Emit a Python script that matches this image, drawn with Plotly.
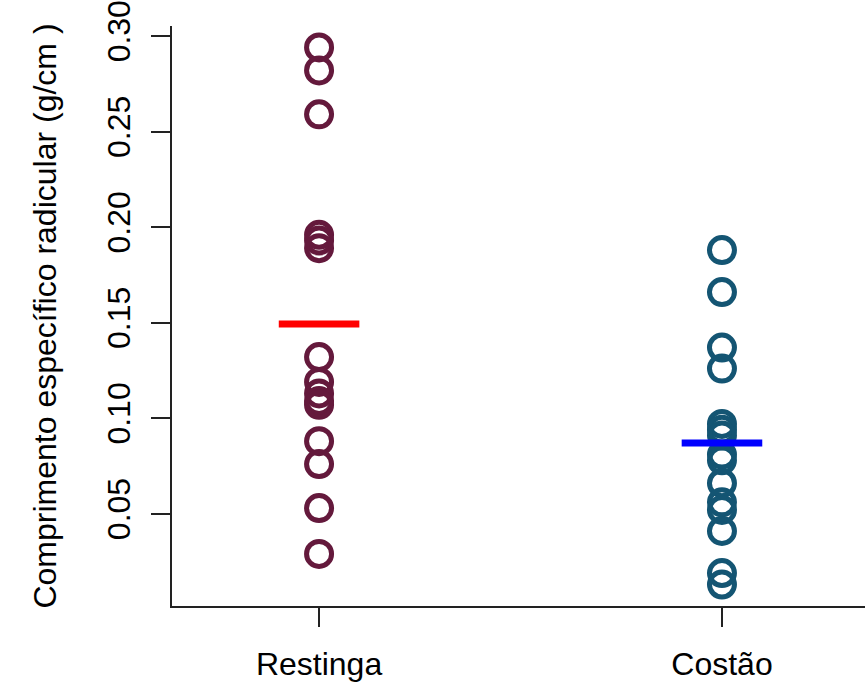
import plotly.graph_objects as go

categories = ["Restinga", "Costão"]
restinga = [0.294, 0.282, 0.259, 0.196, 0.193, 0.189, 0.132, 0.119, 0.113,
            0.109, 0.107, 0.088, 0.076, 0.053, 0.029]
costao = [0.188, 0.166, 0.137, 0.126, 0.097, 0.094, 0.091, 0.081, 0.078,
          0.066, 0.056, 0.052, 0.041, 0.019, 0.013]
y_ticks = [0.05, 0.10, 0.15, 0.20, 0.25, 0.30]
y_ticktext = ["0.05", "0.10", "0.15", "0.20", "0.25", "0.30"]

series = [restinga, costao]
point_colors = ["#64193C", "#145573"]
mean_colors = ["#FF0000", "#0000FF"]

FONT = "Liberation Sans, Arial, sans-serif"

fig = go.Figure()
for i, (name, vals) in enumerate(zip(categories, series)):
    xpos = i + 1
    fig.add_trace(go.Scatter(
        x=[xpos] * len(vals), y=vals, mode="markers",
        marker=dict(symbol="circle-open", size=25,
                    line=dict(width=5, color=point_colors[i]),
                    color=point_colors[i]),
        showlegend=False, hoverinfo="y"))
for i, vals in enumerate(series):
    xpos = i + 1
    m = sum(vals) / len(vals)
    fig.add_trace(go.Scatter(
        x=[xpos - 0.1, xpos + 0.1], y=[m, m], mode="lines",
        line=dict(color=mean_colors[i], width=7),
        showlegend=False, hoverinfo="skip"))

all_vals = restinga + costao
lo, hi = min(all_vals), max(all_vals)
pad = 0.04 * (hi - lo)

fig.update_layout(
    width=865, height=688,
    margin=dict(l=172, r=0, t=26, b=82),
    paper_bgcolor="white", plot_bgcolor="white",
    font=dict(family=FONT, size=32, color="black"),
    xaxis=dict(
        range=[0.635, 2.355], tickmode="array", tickvals=[1, 2],
        ticktext=categories, showgrid=False, zeroline=False,
        showline=True, linecolor="#222222", linewidth=2,
        ticks="outside", ticklen=19, tickwidth=2, tickcolor="#222222",
        tickfont=dict(family=FONT, size=32, color="black"),
        ticklabelstandoff=10, automargin=False, ticklabeloverflow="allow"),
    yaxis=dict(
        range=[lo - pad, hi + pad], tickmode="array", tickvals=y_ticks,
        ticktext=y_ticktext, tickangle=-90, showgrid=False, zeroline=False,
        showline=True, linecolor="#222222", linewidth=2,
        ticks="outside", ticklen=19, tickwidth=2, tickcolor="#222222",
        tickfont=dict(family=FONT, size=32, color="black"),
        ticklabelstandoff=8, automargin=False, ticklabeloverflow="allow",
        title=dict(text="Comprimento específico radicular (g/cm )",
                   font=dict(family=FONT, size=32, color="black"),
                   standoff=35)),
)

fig.write_html(
    "out.html",
    config={"displayModeBar": False},
    post_script="document.body.style.margin='0';"
                "document.body.style.overflow='hidden';",
)
